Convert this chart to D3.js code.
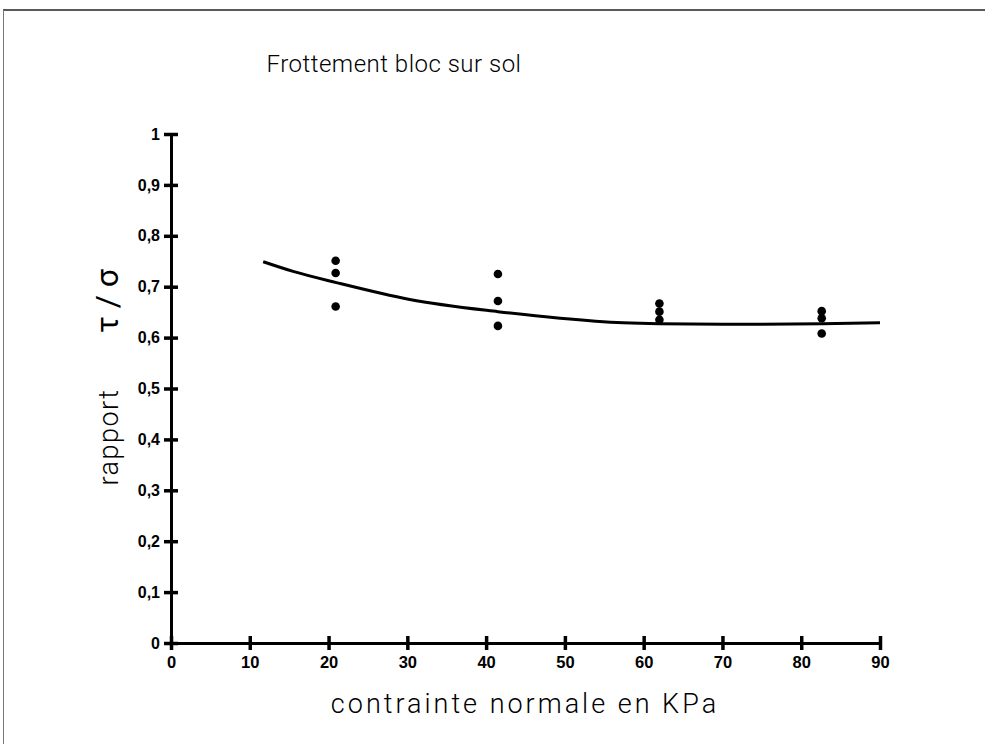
<!DOCTYPE html>
<html>
<head>
<meta charset="utf-8">
<script src="https://cdn.jsdelivr.net/npm/d3@7"></script>
<style>
  html, body { margin: 0; padding: 0; background: #fff; }
  svg { display: block; }
</style>
</head>
<body>
<svg id="chart" width="985" height="744"></svg>
<script>
// Measured friction ratio tau/sigma for a block sliding on soil
const normalStress = [20.9, 20.9, 20.9, 41.5, 41.5, 41.5, 62.0, 62.0, 62.0, 82.6, 82.6, 82.6];
const ratio        = [0.751, 0.727, 0.661, 0.725, 0.672, 0.623, 0.667, 0.651, 0.635, 0.652, 0.638, 0.608];

// Fitted trend curve
const curveStress = [11.7, 15.5, 21, 30.3, 41.5, 49.4, 57.4, 62, 70, 82.6, 90];
const curveRatio  = [0.749, 0.730, 0.708, 0.675, 0.651, 0.638, 0.629, 0.627, 0.626, 0.627, 0.629];

const xTicks = [0, 10, 20, 30, 40, 50, 60, 70, 80, 90];
const yTicks = [0, 0.1, 0.2, 0.3, 0.4, 0.5, 0.6, 0.7, 0.8, 0.9, 1];

const svg = d3.select("#chart");

const x = d3.scaleLinear().domain([0, 90]).range([171, 880]);
const y = d3.scaleLinear().domain([0, 1]).range([643, 134]);

const frFormat = v => v === 0 ? "0" : v === 1 ? "1" : d3.format(".1f")(v).replace(".", ",");
const thinFont = "Roboto, 'DejaVu Sans', sans-serif";
const tickFont = "'Liberation Sans', Arial, sans-serif";

// page frame (top and left edges)
svg.append("line").attr("x1", 3).attr("x2", 985).attr("y1", 10).attr("y2", 10)
  .attr("stroke", "#222").attr("stroke-width", 1.6);
svg.append("line").attr("x1", 3.5).attr("x2", 3.5).attr("y1", 10).attr("y2", 744)
  .attr("stroke", "#777").attr("stroke-width", 1);

// title
svg.append("text")
  .attr("x", 394).attr("y", 72)
  .attr("text-anchor", "middle")
  .attr("font-family", thinFont)
  .attr("font-weight", 300)
  .attr("font-size", 24)
  .attr("letter-spacing", 0.5)
  .attr("fill", "#000")
  .text("Frottement bloc sur sol");

// x axis
const xAxis = svg.append("g")
  .attr("transform", `translate(0,${y(0)})`)
  .call(d3.axisBottom(x).tickValues(xTicks).tickSize(0).tickPadding(13).tickFormat(d3.format("d")));
xAxis.select(".domain").attr("stroke", "#000").attr("stroke-width", 3);
xAxis.selectAll(".tick").append("line")
  .attr("y1", -7).attr("y2", 7)
  .attr("stroke", "#000").attr("stroke-width", 3.5);
xAxis.selectAll(".tick text")
  .attr("font-family", tickFont)
  .attr("font-weight", "bold")
  .attr("font-size", 16.5)
  .attr("fill", "#000");

// y axis
const yAxis = svg.append("g")
  .attr("transform", `translate(${x(0)},0)`)
  .call(d3.axisLeft(y).tickValues(yTicks).tickSize(0).tickPadding(11).tickFormat(frFormat));
yAxis.select(".domain").attr("stroke", "#000").attr("stroke-width", 3);
yAxis.selectAll(".tick").append("line")
  .attr("x1", -7).attr("x2", 7)
  .attr("stroke", "#000").attr("stroke-width", 3.5);
yAxis.selectAll(".tick text")
  .attr("font-family", tickFont)
  .attr("font-weight", "bold")
  .attr("font-size", 16)
  .attr("fill", "#000");

// axis titles
svg.append("text")
  .attr("x", 525).attr("y", 713)
  .attr("text-anchor", "middle")
  .attr("font-family", thinFont)
  .attr("font-weight", 300)
  .attr("font-size", 27)
  .attr("letter-spacing", 3)
  .attr("fill", "#000")
  .text("contrainte normale en KPa");

svg.append("text")
  .attr("transform", "translate(118,437) rotate(-90)")
  .attr("text-anchor", "middle")
  .attr("font-family", thinFont)
  .attr("font-weight", 300)
  .attr("font-size", 27)
  .attr("letter-spacing", 1.5)
  .attr("fill", "#000")
  .text("rapport");

svg.append("text")
  .attr("transform", "translate(118,301) rotate(-90)")
  .attr("text-anchor", "middle")
  .attr("font-family", thinFont)
  .attr("font-weight", 400)
  .attr("font-size", 32)
  .attr("fill", "#000")
  .text("τ / σ");

// trend curve
const line = d3.line()
  .x((d, i) => x(curveStress[i]))
  .y((d, i) => y(curveRatio[i]))
  .curve(d3.curveMonotoneX);
svg.append("path")
  .datum(curveStress)
  .attr("d", line)
  .attr("fill", "none")
  .attr("stroke", "#000")
  .attr("stroke-width", 3);

// measured points
svg.append("g").selectAll("circle")
  .data(normalStress)
  .join("circle")
  .attr("cx", d => x(d))
  .attr("cy", (d, i) => y(ratio[i]))
  .attr("r", 4.3)
  .attr("fill", "#000");
</script>
</body>
</html>
